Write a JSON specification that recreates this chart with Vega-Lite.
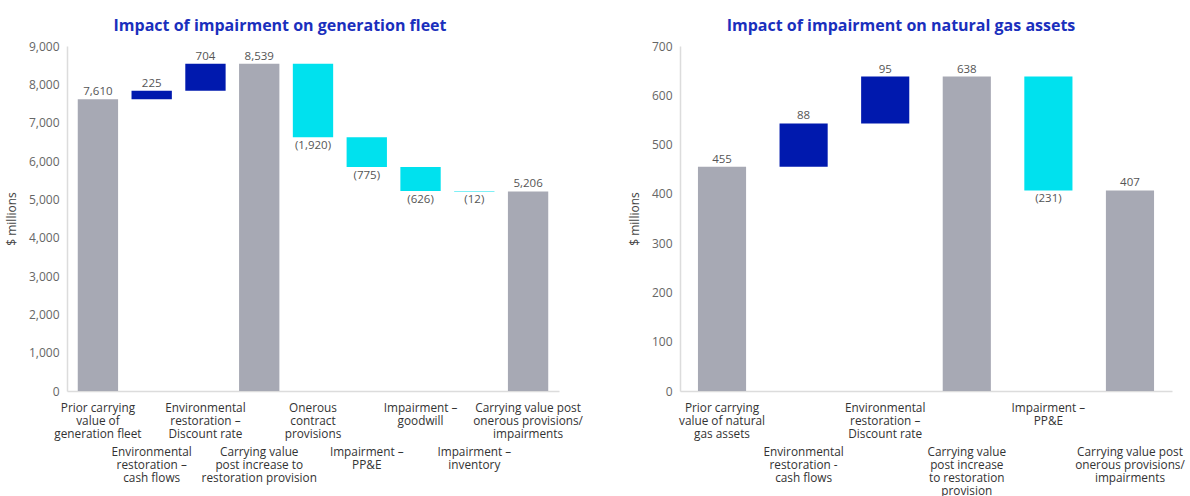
{
  "$schema": "https://vega.github.io/schema/vega-lite/v6.json",
  "padding": {"left": 5, "top": 18, "right": 4, "bottom": 0},
  "background": "white",
  "spacing": 45,
  "config": {
    "font": "Open Sans",
    "view": {"stroke": null},
    "axis": {"grid": false, "ticks": false, "domainColor": "#dcdcdc", "domainWidth": 1.5},
    "axisY": {"labelColor": "#666666", "labelFontSize": 12, "labelPadding": 8, "titleFontSize": 12, "titleFontWeight": "normal", "titleColor": "#444444", "titlePadding": 10, "labelOverlap": false},
    "axisX": {"labelColor": "#333333", "labelFontSize": 11.8, "labelLineHeight": 13, "labelAngle": 0, "labelBaseline": "top", "labelOverlap": false, "labelBound": false, "labelLimit": 0, "title": null},
    "title": {"font": "Open Sans", "fontSize": 16, "fontWeight": "bold", "color": "#1a2fbd", "frame": "group", "anchor": "middle", "offset": 6},
    "text": {"font": "Open Sans", "fontSize": 11.5, "color": "#555555"}
  },
  "hconcat": [
    {
      "width": 492,
      "height": 345,
      "title": {"text": "Impact of impairment on generation fleet", "dx": -33},
      "data": {"values": [
        {"step": "Prior carrying|value of|generation fleet", "lo": 0, "hi": 7610, "kind": "total", "txt": "7,610"},
        {"step": "Environmental|restoration –|cash flows", "lo": 7610, "hi": 7835, "kind": "increase", "txt": "225"},
        {"step": "Environmental|restoration –|Discount rate", "lo": 7835, "hi": 8539, "kind": "increase", "txt": "704"},
        {"step": "Carrying value|post increase to|restoration provision", "lo": 0, "hi": 8539, "kind": "total", "txt": "8,539"},
        {"step": "Onerous|contract|provisions", "lo": 6619, "hi": 8539, "kind": "decrease", "txt": "(1,920)"},
        {"step": "Impairment –|PP&E", "lo": 5844, "hi": 6619, "kind": "decrease", "txt": "(775)"},
        {"step": "Impairment –|goodwill", "lo": 5218, "hi": 5844, "kind": "decrease", "txt": "(626)"},
        {"step": "Impairment –|inventory", "lo": 5206, "hi": 5218, "kind": "decrease", "txt": "(12)"},
        {"step": "Carrying value post|onerous provisions/|impairments", "lo": 0, "hi": 5206, "kind": "total", "txt": "5,206"}
      ]},
      "encoding": {
        "x": {
          "field": "step", "type": "nominal", "sort": null,
          "scale": {"paddingInner": 0.25, "paddingOuter": 0.2},
          "axis": {
            "labelExpr": "split(datum.label, '|')",
            "labelPadding": {"condition": {"test": "indexof(['Environmental|restoration –|cash flows', 'Carrying value|post increase to|restoration provision', 'Impairment –|PP&E', 'Impairment –|inventory'], datum.value) >= 0", "value": 55}, "value": 11}
          }
        }
      },
      "layer": [
        {
          "mark": {"type": "bar"},
          "encoding": {
            "y": {"field": "lo", "type": "quantitative", "scale": {"domain": [0, 9000], "nice": false}, "axis": {"title": "$ millions", "values": [0, 1000, 2000, 3000, 4000, 5000, 6000, 7000, 8000, 9000], "format": ",d"}},
            "y2": {"field": "hi"},
            "color": {"field": "kind", "type": "nominal", "scale": {"domain": ["total", "increase", "decrease"], "range": ["#a7a9b4", "#0019ae", "#00e1ee"]}, "legend": null}
          }
        },
        {
          "transform": [{"filter": "datum.kind != 'decrease'"}],
          "mark": {"type": "text", "baseline": "bottom", "dy": -2},
          "encoding": {"y": {"field": "hi", "type": "quantitative", "axis": {"title": "$ millions", "values": [0, 1000, 2000, 3000, 4000, 5000, 6000, 7000, 8000, 9000], "format": ",d"}}, "text": {"field": "txt"}}
        },
        {
          "transform": [{"filter": "datum.kind == 'decrease'"}],
          "mark": {"type": "text", "baseline": "top", "dy": 3},
          "encoding": {"y": {"field": "lo", "type": "quantitative", "axis": {"title": "$ millions", "values": [0, 1000, 2000, 3000, 4000, 5000, 6000, 7000, 8000, 9000], "format": ",d"}}, "text": {"field": "txt"}}
        }
      ]
    },
    {
      "width": 492,
      "height": 345,
      "title": {"text": "Impact of impairment on natural gas assets", "dx": -25},
      "data": {"values": [
        {"step": "Prior carrying|value of natural|gas assets", "lo": 0, "hi": 455, "kind": "total", "txt": "455"},
        {"step": "Environmental|restoration -|cash flows", "lo": 455, "hi": 543, "kind": "increase", "txt": "88"},
        {"step": "Environmental|restoration –|Discount rate", "lo": 543, "hi": 638, "kind": "increase", "txt": "95"},
        {"step": "Carrying value|post increase|to restoration|provision", "lo": 0, "hi": 638, "kind": "total", "txt": "638"},
        {"step": "Impairment –|PP&E", "lo": 407, "hi": 638, "kind": "decrease", "txt": "(231)"},
        {"step": "Carrying value post|onerous provisions/|impairments", "lo": 0, "hi": 407, "kind": "total", "txt": "407"}
      ]},
      "encoding": {
        "x": {
          "field": "step", "type": "nominal", "sort": null,
          "scale": {"paddingInner": 0.41, "paddingOuter": 0.22},
          "axis": {
            "labelExpr": "split(datum.label, '|')",
            "labelPadding": {"condition": {"test": "indexof(['Environmental|restoration -|cash flows', 'Carrying value|post increase|to restoration|provision', 'Carrying value post|onerous provisions/|impairments'], datum.value) >= 0", "value": 55}, "value": 11}
          }
        }
      },
      "layer": [
        {
          "mark": {"type": "bar"},
          "encoding": {
            "y": {"field": "lo", "type": "quantitative", "scale": {"domain": [0, 700], "nice": false}, "axis": {"title": "$ millions", "values": [0, 100, 200, 300, 400, 500, 600, 700], "format": "d"}},
            "y2": {"field": "hi"},
            "color": {"field": "kind", "type": "nominal", "scale": {"domain": ["total", "increase", "decrease"], "range": ["#a7a9b4", "#0019ae", "#00e1ee"]}, "legend": null}
          }
        },
        {
          "transform": [{"filter": "datum.kind != 'decrease'"}],
          "mark": {"type": "text", "baseline": "bottom", "dy": -2},
          "encoding": {"y": {"field": "hi", "type": "quantitative", "axis": {"title": "$ millions", "values": [0, 100, 200, 300, 400, 500, 600, 700], "format": "d"}}, "text": {"field": "txt"}}
        },
        {
          "transform": [{"filter": "datum.kind == 'decrease'"}],
          "mark": {"type": "text", "baseline": "top", "dy": 3},
          "encoding": {"y": {"field": "lo", "type": "quantitative", "axis": {"title": "$ millions", "values": [0, 100, 200, 300, 400, 500, 600, 700], "format": "d"}}, "text": {"field": "txt"}}
        }
      ]
    }
  ],
  "resolve": {"scale": {"color": "independent"}}
}
